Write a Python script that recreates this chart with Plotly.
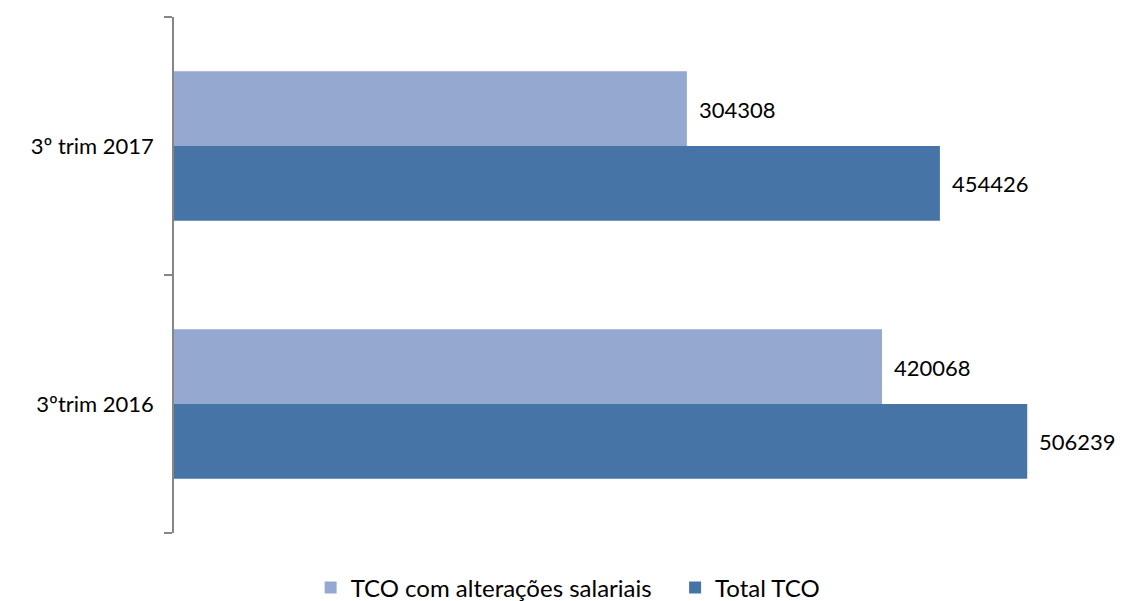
import plotly.graph_objects as go

categories = ["3ºtrim 2016", "3º trim 2017"]
tco_alteracoes = [420068, 304308]
total_tco = [506239, 454426]
series_names = ["TCO com alterações salariais", "Total TCO"]

light = "#95A9D0"
dark = "#4674A7"
font = "Lato"

fig = go.Figure()
fig.add_trace(go.Bar(y=categories, x=total_tco, orientation="h", name=series_names[1],
                     marker=dict(color=dark, line=dict(width=0)), legendrank=2))
fig.add_trace(go.Bar(y=categories, x=tco_alteracoes, orientation="h",
                     name=series_names[0] + "\u00a0\u00a0\u00a0",
                     marker=dict(color=light, line=dict(width=0)), legendrank=1))

# value labels
for i, c in enumerate(categories):
    fig.add_annotation(x=total_tco[i], y=c, text=str(total_tco[i]), showarrow=False,
                       xanchor="left", xshift=10, yshift=-37,
                       font=dict(family=font, size=22, color="#000000"))
    fig.add_annotation(x=tco_alteracoes[i], y=c, text=str(tco_alteracoes[i]), showarrow=False,
                       xanchor="left", xshift=10, yshift=37,
                       font=dict(family=font, size=22, color="#000000"))

fig.update_layout(
    width=1125, height=601,
    margin=dict(l=174, r=24, t=17, b=68),
    paper_bgcolor="white", plot_bgcolor="white",
    barmode="group", bargap=0.42, bargroupgap=0,
    font=dict(family=font, size=22, color="#000000"),
    showlegend=True,
    legend=dict(orientation="h", xref="container", yref="container", x=0.505, y=0.022,
                xanchor="center", yanchor="middle", font=dict(family=font, size=24),
                itemwidth=30),
    xaxis=dict(range=[0, 550000], visible=False, showgrid=False, zeroline=False),
    yaxis=dict(showline=True, linecolor="#868686", linewidth=1.5, ticks="outside",
               tickson="boundaries", ticklen=8, tickwidth=1.5, tickcolor="#868686",
               showgrid=False, zeroline=False, ticklabelstandoff=14,
               tickfont=dict(family=font, size=22)),
)

fig.write_html("out.html", config={"displayModeBar": False},
               post_script="document.body.style.margin='0';document.body.style.padding='0';")
